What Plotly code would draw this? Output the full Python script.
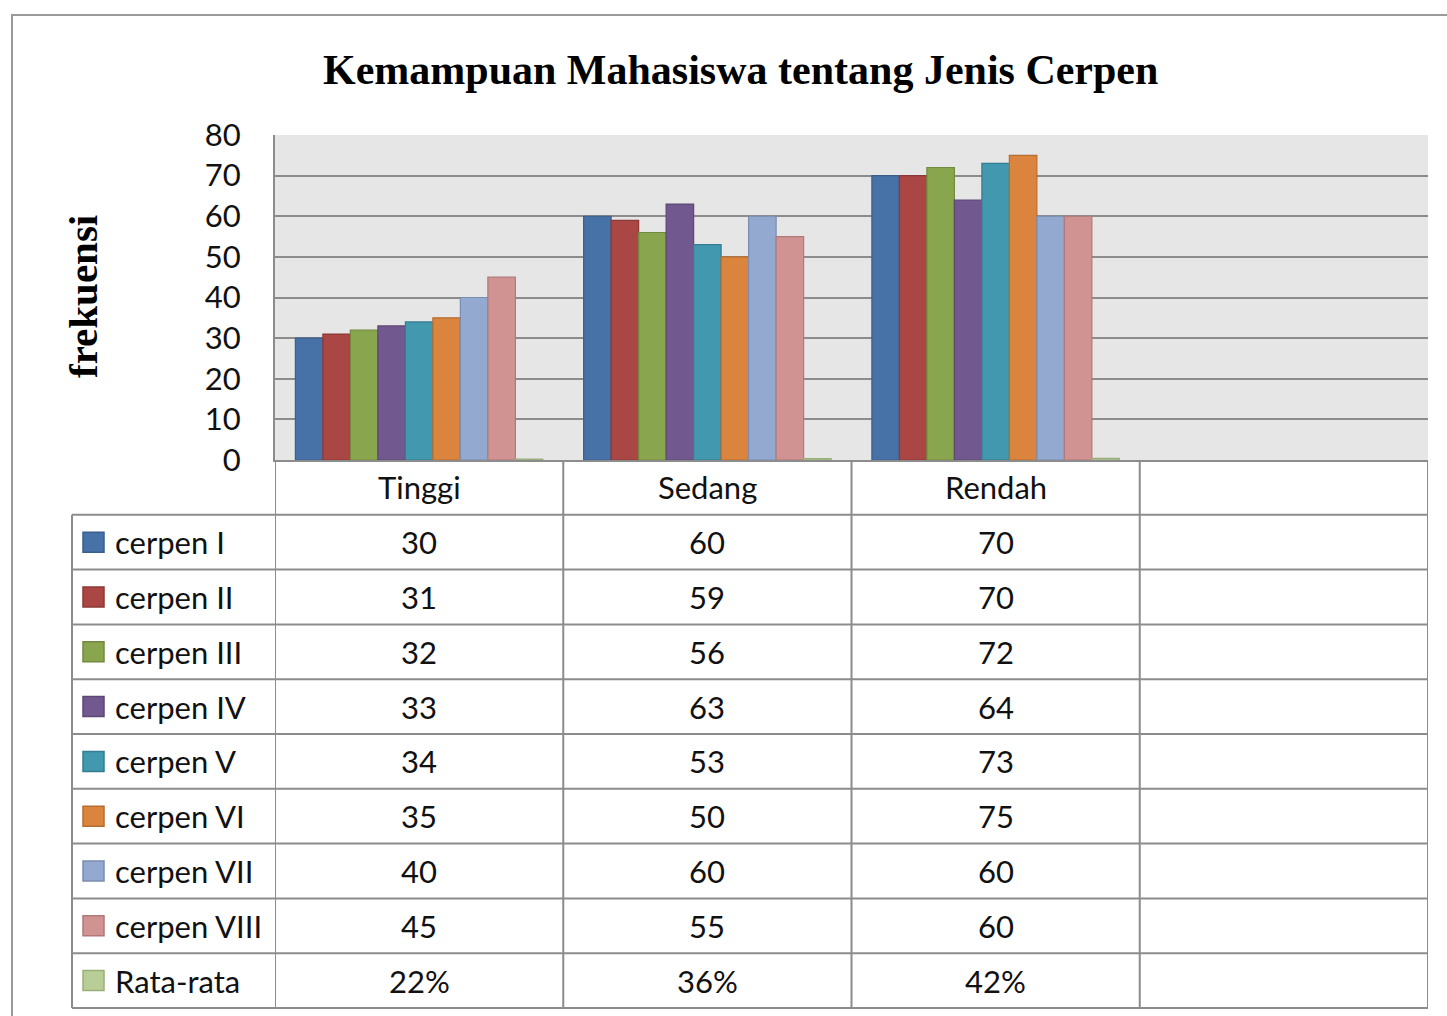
import plotly.graph_objects as go

# ---------------- data ----------------
title_text = "Kemampuan Mahasiswa tentang Jenis Cerpen"
y_title_text = "frekuensi"
categories = ["Tinggi", "Sedang", "Rendah"]
empty_column = " "  # the chart's data table has an empty 4th column
series_names = ["cerpen I", "cerpen II", "cerpen III", "cerpen IV", "cerpen V",
                "cerpen VI", "cerpen VII", "cerpen VIII", "Rata-rata"]
cerpen_1 = [30, 60, 70]
cerpen_2 = [31, 59, 70]
cerpen_3 = [32, 56, 72]
cerpen_4 = [33, 63, 64]
cerpen_5 = [34, 53, 73]
cerpen_6 = [35, 50, 75]
cerpen_7 = [40, 60, 60]
cerpen_8 = [45, 55, 60]
rata_rata = [0.22, 0.36, 0.42]   # shown as 22%, 36%, 42%
y_ticks = [0, 10, 20, 30, 40, 50, 60, 70, 80]

series_values = [cerpen_1, cerpen_2, cerpen_3, cerpen_4, cerpen_5,
                 cerpen_6, cerpen_7, cerpen_8, rata_rata]
is_percent = [False] * 8 + [True]

# ---------------- styles ----------------
fills = ["#4672A8", "#AA4644", "#89A54E", "#71588F", "#4198AF",
         "#DB843D", "#93A9CF", "#D19392", "#B9CD96"]
edges = ["#3A5F8C", "#8C3836", "#718A3F", "#5C4775", "#357D90",
         "#B66D31", "#7A8DAE", "#AF7A79", "#9AAE7C"]
grid_col = "#8C8C8C"
text_col = "#111111"
label_font = dict(family="Lato, 'Open Sans', sans-serif", size=31, color=text_col)
serif = "'Liberation Serif', 'Times New Roman', serif"

W, H = 1447, 1016
plot_l, plot_r, plot_t, plot_b = 275, 1428, 135, 460
table_l = 72
row_h = 54.8
swatch_l, swatch_r, label_x = 83, 104, 113


def fx(px):
    return px / W


def fy(py):
    return 1 - py / H


columns = categories + [empty_column]

fig = go.Figure()
for name, vals, fc, ec in zip(series_names, series_values, fills, edges):
    fig.add_trace(go.Bar(
        name=name, x=categories, y=vals,
        marker=dict(color=fc, line=dict(color=ec, width=1.2)),
        showlegend=False,
    ))

shapes = []
annotations = []

# outer chart border (continues past the photographed area)
shapes.append(dict(type="rect", xref="paper", yref="paper",
                   x0=fx(12), x1=fx(W + 20), y0=fy(15), y1=fy(H + 20),
                   line=dict(color="#9A9A9A", width=2), fillcolor="rgba(0,0,0,0)"))

n_rows = len(series_names)
table_bottom = plot_b + row_h * (n_rows + 1)

# vertical table lines on category boundaries
for i in range(len(columns) + 1):
    shapes.append(dict(type="line", xref="x", yref="paper",
                       x0=i - 0.5, x1=i - 0.5, y0=fy(plot_b), y1=fy(table_bottom),
                       line=dict(color=grid_col, width=2)))
# left edge of the series-name column
shapes.append(dict(type="line", xref="paper", yref="paper",
                   x0=fx(table_l), x1=fx(table_l),
                   y0=fy(plot_b + row_h), y1=fy(table_bottom),
                   line=dict(color=grid_col, width=2)))
# horizontal table lines
for r in range(1, n_rows + 2):
    yy = fy(plot_b + row_h * r)
    shapes.append(dict(type="line", xref="paper", yref="paper",
                       x0=fx(table_l), x1=fx(plot_r), y0=yy, y1=yy,
                       line=dict(color=grid_col, width=2)))

# header row
for c in categories:
    annotations.append(dict(xref="x", yref="paper", x=c, y=fy(plot_b + row_h * 0.5),
                            text=c, showarrow=False, font=label_font,
                            xanchor="center", yanchor="middle"))

# data rows
for r, (name, vals, pct, fc, ec) in enumerate(zip(series_names, series_values,
                                                   is_percent, fills, edges)):
    yc = plot_b + row_h * (r + 1.5)
    shapes.append(dict(type="rect", xref="paper", yref="paper",
                       x0=fx(swatch_l), x1=fx(swatch_r),
                       y0=fy(yc - 10), y1=fy(yc + 10),
                       fillcolor=fc, line=dict(color=ec, width=1.5)))
    annotations.append(dict(xref="paper", yref="paper", x=fx(label_x), y=fy(yc),
                            text=name, showarrow=False, font=label_font,
                            xanchor="left", yanchor="middle"))
    for c, v in zip(categories, vals):
        txt = f"{v:.0%}" if pct else f"{v}"
        annotations.append(dict(xref="x", yref="paper", x=c, y=fy(yc),
                                text=txt, showarrow=False, font=label_font,
                                xanchor="center", yanchor="middle"))

# title and y-axis title
annotations.append(dict(xref="paper", yref="paper", x=fx(740), y=fy(70),
                        text=f"<b>{title_text}</b>", showarrow=False,
                        font=dict(family=serif, size=42, color="#000000"),
                        xanchor="center", yanchor="middle"))
annotations.append(dict(xref="paper", yref="paper", x=fx(83), y=fy(297),
                        text=f"<b>{y_title_text}</b>", showarrow=False, textangle=-90,
                        font=dict(family=serif, size=41, color="#000000"),
                        xanchor="center", yanchor="middle"))

fig.update_layout(
    width=W, height=H,
    autosize=False,
    margin=dict(l=0, r=0, t=0, b=0, pad=0),
    paper_bgcolor="white",
    plot_bgcolor="#E6E6E6",
    barmode="group",
    bargap=0.1414,
    bargroupgap=0,
    xaxis=dict(
        domain=[fx(plot_l), fx(plot_r)],
        type="category",
        categoryorder="array",
        categoryarray=columns,
        range=[-0.5, len(columns) - 0.5],
        showticklabels=False,
        showgrid=False,
        zeroline=False,
        showline=True, linecolor=grid_col, linewidth=2,
        ticks="",
        automargin=False,
    ),
    yaxis=dict(
        domain=[fy(plot_b), fy(plot_t)],
        range=[0, 80],
        tickvals=y_ticks,
        showgrid=True, gridcolor=grid_col, gridwidth=2,
        zeroline=False,
        showline=True, linecolor=grid_col, linewidth=2,
        ticks="",
        ticklabelstandoff=26,
        tickfont=label_font,
        automargin=False,
    ),
    shapes=shapes,
    annotations=annotations,
)

fig.write_html("out.html",
               config={"displayModeBar": False},
               post_script="document.body.style.margin='0';document.body.style.overflow='hidden';")
